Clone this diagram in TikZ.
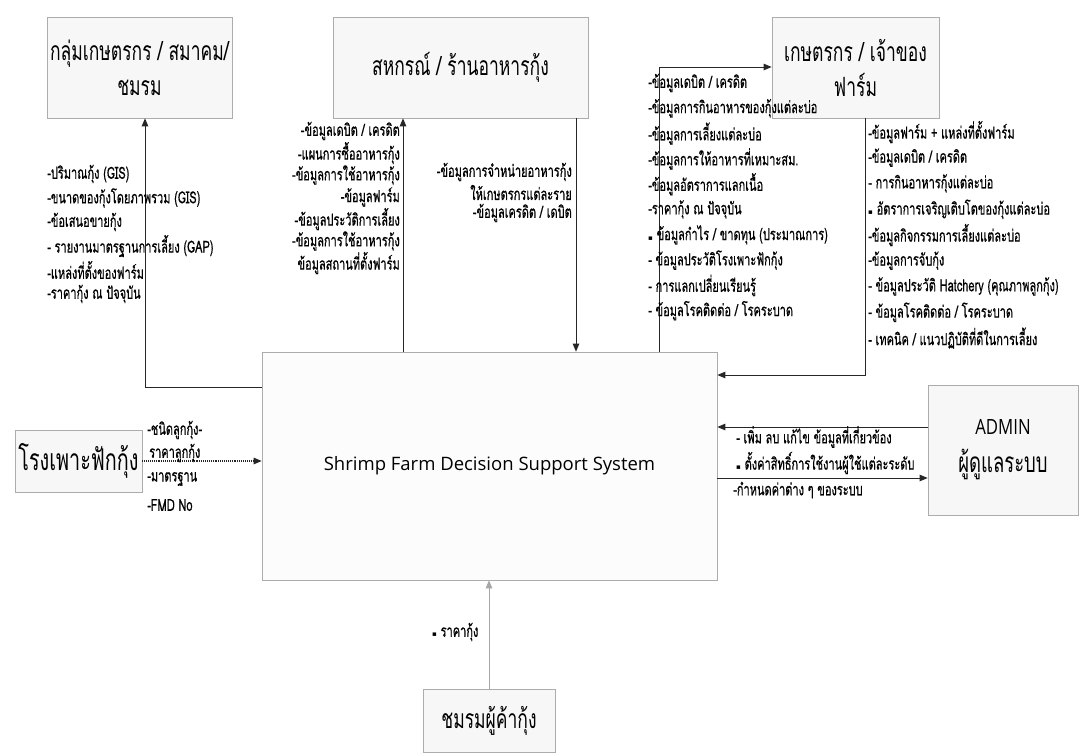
\documentclass[tikz,border=0pt]{standalone}
\usepackage{fontspec}
\setmainfont{Loma}[Script=Thai, FakeStretch=0.66]
\newfontfamily\lblfont{Loma}[Script=Thai, FakeStretch=0.66, FakeBold=0.6]
\newfontfamily\sansfont{Open Sans}
\newfontfamily\sansnarrow{Open Sans}[FakeStretch=0.8]
\newfontfamily\dvfont{DejaVu Sans}
\usetikzlibrary{arrows.meta,shadows}
\newcommand\sqb{{\dvfont\fontsize{7}{8}\selectfont ▪}}
\begin{document}
\begin{tikzpicture}[x=1pt,y=-1pt,
 box/.style={draw=gray!65, fill=gray!6, line width=0.7pt, inner sep=2pt, align=center,
   drop shadow={shadow xshift=1.3pt, shadow yshift=-1.3pt, fill=gray!70, opacity=0.6}},
 lbl/.style={inner sep=0pt, font=\lblfont\fontsize{16.7}{18}\selectfont},
 arr/.style={-{Triangle[length=8pt,width=6.5pt]}, line width=0.9pt, black!85},
 ttl/.style={font=\fontsize{26.5}{35}\selectfont}]
\useasboundingbox[fill=white] (0,0) rectangle (1080,755);

% boxes
\node[box, ttl, minimum width=185pt, minimum height=101pt] (grp) at (139.5,67.5) {กลุ่มเกษตรกร / สมาคม/\\ชมรม};
\node[box, ttl, minimum width=255pt, minimum height=101pt] (coop) at (460.5,67.5) {สหกรณ์ / ร้านอาหารกุ้ง};
\node[box, ttl, minimum width=167pt, minimum height=101pt] (farm) at (855.5,67.5) {เกษตรกร / เจ้าของ\\ฟาร์ม};
\node[box, fill=gray!2, minimum width=455pt, minimum height=228pt, font=\sansfont\fontsize{18.5}{22}\selectfont] (main) at (489.5,466) {Shrimp Farm Decision Support System};
\node[box, font=\fontsize{30}{34}\selectfont, minimum width=127pt, minimum height=62pt] (hatch) at (78.5,461) {โรงเพาะฟักกุ้ง};
\node[box, font=\fontsize{28}{38}\selectfont, minimum width=150pt, minimum height=130pt] (admin) at (1003,450) {{\sansnarrow\fontsize{21}{24}\selectfont ADMIN}\\ผู้ดูแลระบบ};
\node[box, font=\fontsize{26.5}{30}\selectfont, minimum width=132pt, minimum height=63pt] (trader) at (489,720.5) {ชมรมผู้ค้ากุ้ง};

% connectors
\coordinate (gA) at (262,387);
\draw[arr] (gA) -| ([xshift=5.5pt]grp.south);
\coordinate (cu) at (403,0);
\draw[arr] (cu |- main.north) -- (cu |- coop.south);
\coordinate (cd) at (576,0);
\draw[arr] (cd |- coop.south) -- (cd |- main.north);
\coordinate (fu) at (659,67);
\draw[arr] (fu |- main.north) -- (fu) -- (fu -| farm.west);
\coordinate (fd) at (865,375);
\draw[arr] (fd |- farm.south) -- (fd) -- (fd -| main.east);
\coordinate (a1) at (0,427);
\draw[arr] (a1 -| admin.west) -- (a1 -| main.east);
\coordinate (a2) at (0,478);
\draw[arr] (a2 -| main.east) -- (a2 -| admin.west);
\draw[arr, densely dotted, line width=1.1pt] (hatch.east) -- (hatch.east -| main.west);
\draw[arr, gray!70, line width=0.8pt] (trader.north) -- (trader.north |- main.south);

% group labels
\foreach \t [count=\i from 0] in {-ปริมาณกุ้ง (GIS), -ขนาดของกุ้งโดยภาพรวม (GIS), -ข้อเสนอขายกุ้ง, - รายงานมาตรฐานการเลี้ยง (GAP), -แหล่งที่ตั้งของฟาร์ม, -ราคากุ้ง ณ ปัจจุบัน}
  \node[lbl, anchor=west] (g\i) at (47,174+24*\i) {\t};

% coop left labels
\foreach \t [count=\i from 0] in {-ข้อมูลเดบิต / เครดิต, -แผนการซื้ออาหารกุ้ง, -ข้อมูลการใช้อาหารกุ้ง, -ข้อมูลฟาร์ม, -ข้อมูลประวัติการเลี้ยง, -ข้อมูลการใช้อาหารกุ้ง, ข้อมูลสถานที่ตั้งฟาร์ม}
  \node[lbl, anchor=east] (cl\i) at (400,131+22*\i) {\t};

% coop middle labels
\foreach \t [count=\i from 0] in {-ข้อมูลการจำหน่ายอาหารกุ้ง, ให้เกษตรกรแต่ละราย, -ข้อมูลเครดิต / เดบิต}
  \node[lbl, anchor=east] (cm\i) at (572,172+20.5*\i) {\t};

% farm left labels
\foreach \t [count=\i from 0] in {-ข้อมูลเดบิต / เครดิต, -ข้อมูลการกินอาหารของกุ้งแต่ละบ่อ, -ข้อมูลการเลี้ยงแต่ละบ่อ, -ข้อมูลการให้อาหารที่เหมาะสม., -ข้อมูลอัตราการแลกเนื้อ, -ราคากุ้ง ณ ปัจจุบัน, \sqb\ ข้อมูลกำไร / ขาดทุน (ประมาณการ), - ข้อมูลประวัติโรงเพาะฟักกุ้ง, - การแลกเปลี่ยนเรียนรู้, - ข้อมูลโรคติดต่อ / โรคระบาด}
  \node[lbl, anchor=west] (fl\i) at (648,83+25.3*\i) {\t};

% farm right labels
\foreach \t [count=\i from 0] in {-ข้อมูลฟาร์ม + แหล่งที่ตั้งฟาร์ม, -ข้อมูลเดบิต / เครดิต, - การกินอาหารกุ้งแต่ละบ่อ, \sqb\ อัตราการเจริญเติบโตของกุ้งแต่ละบ่อ, -ข้อมูลกิจกรรมการเลี้ยงแต่ละบ่อ, -ข้อมูลการจับกุ้ง, - ข้อมูลประวัติ Hatchery (คุณภาพลูกกุ้ง), - ข้อมูลโรคติดต่อ / โรคระบาด, - เทคนิค / แนวปฏิบัติที่ดีในการเลี้ยง}
  \node[lbl, anchor=west] (fr\i) at (868,132+25.75*\i) {\t};

% hatchery labels
\node[lbl, anchor=west] (h0) at (147,430) {-ชนิดลูกกุ้ง-};
\node[lbl, anchor=west] (h1) at (149,453) {ราคาลูกกุ้ง};
\node[lbl, anchor=west] (h2) at (147,479) {-มาตรฐาน};
\node[lbl, anchor=west] (h3) at (147,505) {-FMD No};

% admin labels
\node[lbl, anchor=west] (ad0) at (736,437) {- เพิ่ม ลบ แก้ไข ข้อมูลที่เกี่ยวข้อง};
\node[lbl, anchor=west] (ad1) at (736,463) {\sqb\ ตั้งค่าสิทธิ์การใช้งานผู้ใช้แต่ละระดับ};
\node[lbl, anchor=west] (ad2) at (733,490) {-กำหนดค่าต่าง ๆ ของระบบ};

% trader label
\node[lbl, anchor=west] (tr0) at (432,632) {\sqb\ ราคากุ้ง};
\end{tikzpicture}
\end{document}
